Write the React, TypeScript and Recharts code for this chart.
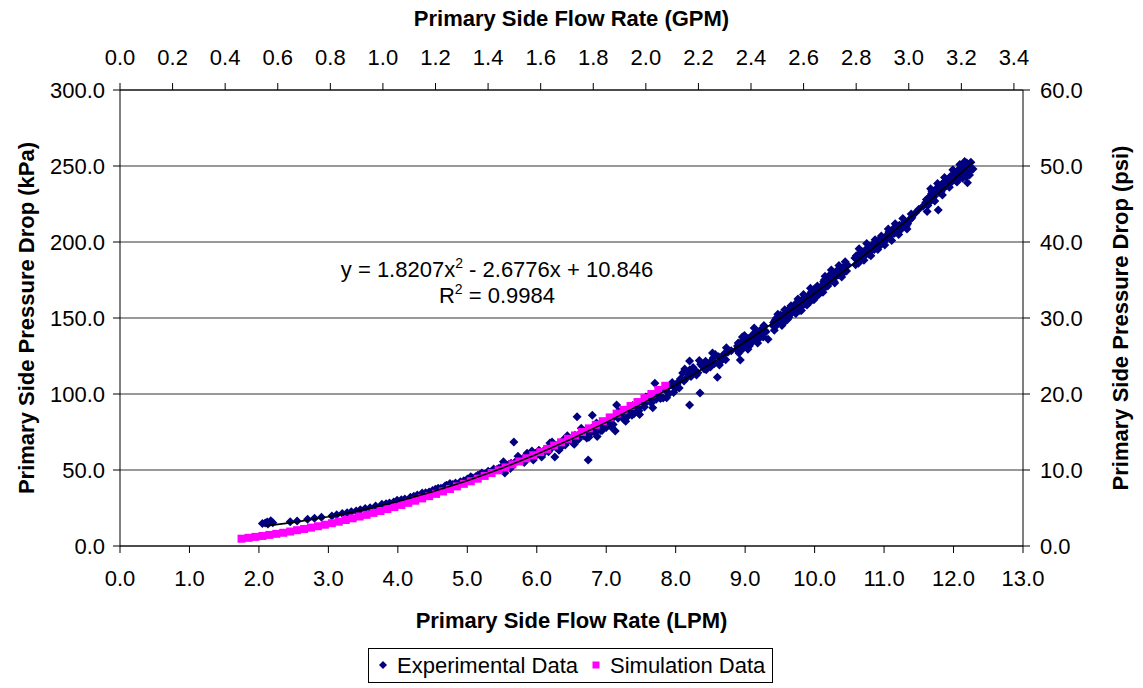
import React from "react";
import {
  ScatterChart,
  Scatter,
  XAxis,
  YAxis,
  CartesianGrid,
  Label,
} from "recharts";

// axis ticks
const lpmTicks = [0, 1, 2, 3, 4, 5, 6, 7, 8, 9, 10, 11, 12, 13];
const gpmTicks = [0, 0.2, 0.4, 0.6, 0.8, 1.0, 1.2, 1.4, 1.6, 1.8, 2.0, 2.2, 2.4, 2.6, 2.8, 3.0, 3.2, 3.4];
const kpaTicks = [0, 50, 100, 150, 200, 250, 300];
const psiTicks = [0, 10, 20, 30, 40, 50, 60];
const gpmMax = 3.4345; // 13 LPM in GPM
const psiMax = 60;

// Experimental Data: [flow LPM, pressure drop kPa]
const experimental: [number, number][] = [
  [2.05, 14.8], [2.09, 15.1], [2.13, 14.4], [2.17, 16.6], [2.2, 15.3], [2.12, 15.8],
  [2.45, 15.9], [2.55, 16.5], [2.7, 17.6], [2.8, 18.2], [2.9, 18.9], [3.05, 19.8],
  [3.12, 20.6], [3.2, 21.4], [3.27, 21.9], [3.33, 22.6], [3.4, 23.1], [3.46, 23.8],
  [3.53, 24.6], [3.6, 25.2], [3.68, 26.3], [3.77, 27.4], [3.83, 27.8], [3.88, 28.3],
  [3.94, 29.0], [3.99, 30.1], [4.05, 30.5], [4.1, 31.0], [4.18, 32.1], [4.23, 32.8],
  [4.28, 33.5], [4.35, 34.9], [4.4, 35.0], [4.45, 35.6], [4.5, 36.5], [4.54, 37.4],
  [4.58, 38.0], [4.62, 38.0], [4.68, 39.5], [4.7, 40.0], [4.75, 41.2], [4.79, 40.5],
  [4.83, 41.5], [4.9, 42.2], [4.95, 43.0], [5.0, 44.0], [5.05, 45.5], [5.08, 44.7],
  [5.12, 45.5], [5.15, 46.5], [5.18, 47.0], [5.21, 48.0],
  [5.25, 47.2], [5.3, 49.1], [5.33, 48.5], [5.38, 50.6], [5.42, 50.2], [5.45, 51.0],
  [5.5, 52.4], [5.52, 55.5], [5.54, 48.0], [5.57, 52.0], [5.6, 53.8], [5.62, 51.0],
  [5.63, 54.5], [5.67, 68.4], [5.68, 55.0], [5.72, 55.9], [5.73, 59.0], [5.75, 57.0],
  [5.8, 57.6], [5.82, 55.0], [5.83, 58.2], [5.86, 61.0], [5.9, 59.8], [5.92, 60.5],
  [5.93, 62.5], [5.95, 56.6], [5.98, 59.0], [6.0, 61.5], [6.03, 63.0], [6.05, 61.8],
  [6.07, 58.5], [6.08, 60.2], [6.1, 62.6], [6.14, 63.8], [6.17, 62.0], [6.19, 67.8],
  [6.2, 64.0], [6.22, 68.5], [6.23, 65.5], [6.26, 58.5], [6.28, 64.8], [6.3, 66.5],
  [6.32, 63.0], [6.33, 67.2], [6.35, 65.0], [6.38, 69.7], [6.41, 66.5], [6.43, 68.4],
  [6.44, 72.5], [6.46, 69.5], [6.5, 70.8], [6.52, 68.0], [6.54, 67.0], [6.55, 72.8],
  [6.58, 71.7], [6.58, 85.0], [6.6, 70.0], [6.63, 74.5], [6.64, 77.5], [6.65, 73.5],
  [6.68, 72.5], [6.7, 76.0], [6.72, 71.0], [6.74, 56.6], [6.75, 71.5], [6.77, 74.0],
  [6.79, 77.5], [6.8, 86.0], [6.82, 76.5], [6.84, 74.5], [6.86, 81.0], [6.87, 72.0],
  [6.88, 78.0], [6.9, 79.0], [6.92, 76.0], [6.94, 76.0], [6.95, 80.2], [6.97, 81.5],
  [7.0, 78.0], [7.02, 79.5], [7.05, 82.0], [7.07, 78.5], [7.08, 83.5], [7.1, 80.0],
  [7.13, 75.6], [7.15, 92.8], [7.17, 84.0], [7.18, 88.5], [7.2, 85.5], [7.23, 87.5],
  [7.26, 83.0], [7.28, 82.0], [7.3, 84.9], [7.32, 88.0], [7.34, 89.5], [7.37, 86.0],
  [7.38, 92.5], [7.4, 87.0], [7.42, 91.0], [7.44, 89.5], [7.47, 89.0], [7.48, 86.5],
  [7.5, 92.5], [7.52, 94.0], [7.55, 91.5], [7.57, 98.0], [7.58, 94.7], [7.6, 96.0],
  [7.63, 99.3], [7.65, 94.0], [7.67, 91.0], [7.68, 98.5], [7.7, 107.0], [7.72, 96.5],
  [7.75, 99.5], [7.77, 102.0], [7.78, 97.0], [7.82, 97.4], [7.85, 103.0], [7.87, 97.5],
  [7.88, 101.5], [7.9, 100.0], [7.92, 106.0], [7.95, 107.5], [7.97, 101.0], [7.98, 104.5],
  [8.0, 103.5], [8.02, 106.5], [8.04, 108.0], [8.05, 104.0], [8.07, 110.0], [8.1, 113.8],
  [8.12, 108.5], [8.13, 116.5], [8.15, 110.2], [8.17, 113.5], [8.2, 115.8], [8.2, 121.7],
  [8.2, 92.8], [8.22, 111.5], [8.24, 113.0], [8.25, 117.5], [8.27, 116.0], [8.3, 112.5],
  [8.32, 114.0], [8.34, 122.0], [8.35, 100.6], [8.36, 119.5], [8.38, 118.5], [8.41, 116.5],
  [8.43, 121.5], [8.44, 116.0], [8.45, 120.0], [8.48, 119.0], [8.5, 117.8], [8.52, 122.0],
  [8.53, 127.0], [8.54, 123.7], [8.56, 120.0], [8.57, 126.0], [8.6, 111.0], [8.62, 124.5],
  [8.63, 119.0], [8.65, 121.5], [8.68, 123.7], [8.7, 126.5], [8.72, 122.5], [8.73, 130.5],
  [8.75, 127.5], [8.8, 128.5],
  [8.88, 129.5], [8.89, 131.5], [8.9, 133.5], [8.91, 127.0], [8.92, 128.5], [8.93, 122.4],
  [8.94, 134.0], [8.95, 131.2], [8.96, 137.5], [8.97, 130.0], [8.98, 134.8], [8.99, 138.5],
  [9.0, 136.0], [9.02, 132.0], [9.03, 134.0], [9.04, 129.5], [9.05, 136.5], [9.06, 131.5],
  [9.07, 136.8], [9.09, 138.0], [9.1, 134.0], [9.11, 135.5], [9.12, 139.2], [9.13, 143.5],
  [9.14, 140.5], [9.15, 137.0], [9.16, 138.5], [9.17, 140.0], [9.18, 133.5], [9.19, 136.0],
  [9.2, 138.4], [9.21, 139.5], [9.22, 141.5], [9.24, 143.0], [9.25, 140.0], [9.26, 137.5],
  [9.27, 145.0], [9.28, 142.0], [9.3, 141.0], [9.33, 136.0],
  [9.4, 145.0], [9.41, 147.0], [9.42, 142.0], [9.43, 148.5], [9.44, 144.5], [9.45, 150.0],
  [9.46, 146.2], [9.47, 152.5], [9.48, 148.0], [9.5, 150.0], [9.51, 152.0], [9.52, 147.5],
  [9.53, 145.0], [9.54, 149.5], [9.55, 151.8], [9.56, 147.0], [9.57, 155.5], [9.58, 149.0],
  [9.59, 152.5], [9.6, 153.5], [9.61, 149.0], [9.62, 155.5], [9.63, 150.5], [9.64, 152.0],
  [9.65, 155.0], [9.66, 158.0],
  [9.7, 156.0], [9.71, 154.0], [9.72, 158.4], [9.73, 153.0], [9.74, 160.0], [9.75, 155.5],
  [9.76, 162.5], [9.77, 157.5], [9.78, 160.0], [9.79, 155.0], [9.8, 157.4], [9.81, 155.0],
  [9.82, 159.5], [9.83, 162.0], [9.84, 165.5], [9.85, 163.5], [9.86, 159.0], [9.87, 161.0],
  [9.88, 163.5], [9.89, 158.5], [9.9, 161.0], [9.91, 164.0], [9.92, 160.0], [9.93, 165.0],
  [9.94, 169.5], [9.95, 167.0], [9.96, 162.5], [9.97, 164.5], [9.98, 166.8], [9.99, 162.0],
  [10.0, 169.0], [10.02, 164.0], [10.03, 166.0], [10.04, 171.0], [10.05, 168.5], [10.06, 165.5],
  [10.1, 171.0], [10.11, 169.0], [10.12, 167.0], [10.13, 173.8], [10.14, 175.0], [10.15, 177.5],
  [10.16, 170.5], [10.18, 173.0], [10.19, 171.0], [10.2, 176.0], [10.21, 178.0], [10.23, 174.2],
  [10.24, 181.5], [10.25, 176.0], [10.27, 180.0], [10.28, 174.0], [10.29, 173.0], [10.3, 177.0],
  [10.31, 180.0], [10.33, 181.5], [10.34, 178.5], [10.35, 184.5], [10.36, 178.4], [10.38, 182.5],
  [10.39, 177.0], [10.4, 183.0], [10.41, 179.5], [10.43, 180.8], [10.44, 187.0], [10.45, 184.0],
  [10.46, 181.0], [10.47, 185.0],
  [10.58, 189.5], [10.59, 185.0], [10.6, 191.0], [10.62, 188.0], [10.63, 186.0], [10.64, 195.5],
  [10.65, 192.5], [10.67, 190.5], [10.69, 193.5], [10.7, 190.0], [10.71, 188.0], [10.72, 191.5],
  [10.74, 194.8], [10.75, 199.0], [10.76, 196.0], [10.78, 192.0], [10.8, 193.5], [10.81, 191.0],
  [10.82, 197.0], [10.84, 198.5], [10.86, 195.0], [10.87, 201.5], [10.88, 196.5], [10.9, 199.5],
  [10.91, 195.0], [10.92, 201.0], [10.94, 197.5], [10.95, 199.0], [10.96, 204.0], [10.97, 200.8],
  [11.0, 200.0], [11.01, 198.0], [11.02, 202.0], [11.04, 203.0], [11.05, 205.0], [11.06, 208.5],
  [11.07, 206.5], [11.08, 203.5], [11.1, 204.5], [11.11, 201.0], [11.12, 207.5], [11.14, 209.0],
  [11.15, 205.8], [11.16, 212.0], [11.18, 207.0], [11.2, 209.8], [11.21, 205.0], [11.22, 211.0],
  [11.24, 208.0], [11.26, 209.5], [11.27, 215.5], [11.28, 212.0], [11.3, 213.5], [11.32, 210.5],
  [11.33, 208.5], [11.34, 212.0], [11.36, 214.5], [11.38, 215.0], [11.39, 218.5], [11.4, 216.0],
  [11.45, 219.0], [11.5, 221.5], [11.56, 223.5],
  [11.6, 226.0], [11.61, 228.0], [11.62, 220.0], [11.63, 224.0], [11.64, 229.0], [11.66, 226.5],
  [11.67, 235.0], [11.68, 231.5], [11.69, 233.0], [11.7, 228.5], [11.72, 230.0], [11.73, 227.0],
  [11.74, 234.0], [11.76, 235.5], [11.77, 238.5], [11.78, 221.0], [11.79, 232.5], [11.8, 236.5],
  [11.82, 233.0], [11.83, 238.0], [11.84, 231.0], [11.85, 235.0], [11.86, 239.0], [11.87, 242.5],
  [11.88, 240.0], [11.9, 237.0],
  [11.92, 238.5], [11.93, 241.5], [11.94, 236.0], [11.95, 243.0], [11.96, 239.0], [11.98, 241.0],
  [11.99, 247.5], [12.0, 244.0], [12.01, 246.0], [12.03, 240.5], [12.04, 243.5], [12.05, 239.5],
  [12.06, 246.5], [12.08, 248.0], [12.09, 251.0], [12.1, 243.0], [12.11, 245.0], [12.12, 248.5],
  [12.13, 242.0], [12.14, 250.5], [12.15, 245.5], [12.16, 253.0], [12.17, 247.5], [12.18, 243.0],
  [12.19, 252.0], [12.2, 239.0], [12.21, 251.0], [12.22, 249.0], [12.23, 244.0], [12.24, 246.5],
  [12.25, 252.5], [12.28, 248.0],
];

// Simulation Data: [flow LPM, pressure drop kPa]
const simulation: [number, number][] = [
  [1.75, 4.8], [1.85, 5.4], [1.95, 6.0], [2.05, 6.6], [2.15, 7.3], [2.25, 8.0],
  [2.35, 8.7], [2.45, 9.5], [2.55, 10.4], [2.65, 11.2], [2.75, 12.1], [2.85, 13.0],
  [2.95, 14.0], [3.05, 15.0], [3.15, 16.0], [3.25, 17.1], [3.35, 18.2], [3.45, 19.4],
  [3.55, 20.5], [3.65, 21.8], [3.75, 23.0], [3.85, 24.3], [3.95, 25.6], [4.05, 27.0],
  [4.15, 28.4], [4.25, 29.8], [4.35, 31.3], [4.45, 32.8], [4.55, 34.3], [4.65, 35.9],
  [4.75, 37.5], [4.85, 39.2], [4.95, 40.9], [5.05, 42.6], [5.15, 44.3], [5.25, 46.1],
  [5.35, 48.0], [5.45, 49.8], [5.55, 51.7], [5.65, 53.7], [5.75, 55.6], [5.85, 57.7],
  [5.95, 59.7], [6.05, 61.8], [6.15, 63.9], [6.25, 66.1], [6.35, 68.2], [6.45, 70.5],
  [6.55, 72.7], [6.65, 75.0], [6.75, 77.4], [6.85, 79.7], [6.95, 82.1], [7.05, 84.6],
  [7.15, 87.1], [7.25, 89.6], [7.35, 92.1], [7.45, 94.7], [7.55, 97.3], [7.65, 100.0],
  [7.75, 102.7], [7.85, 105.4],
];

// Poly. trendline of Experimental Data
const trend: [number, number][] = [
  [2.1, 13.25], [2.5, 15.53], [3.0, 19.2], [3.5, 23.78], [4.0, 29.27], [4.5, 35.67],
  [5.0, 42.98], [5.5, 51.2], [6.0, 60.33], [6.5, 70.37], [7.0, 81.32], [7.5, 93.18],
  [8.0, 105.95], [8.5, 119.63], [9.0, 134.22], [9.5, 149.73], [10.0, 166.14], [10.5, 183.46],
  [11.0, 201.7], [11.5, 220.84], [12.0, 240.9], [12.28, 252.52],
];

const toPts = (arr: [number, number][]) => arr.map(([x, y]) => ({ x, y }));
// corner points so the GPM / psi axes get a domain
const secondaryCorners = [
  { x: 0, y: 0 },
  { x: gpmMax, y: psiMax },
];

const FONT = "'Liberation Sans', Arial, sans-serif";
const NAVY = "#000080";
const MAGENTA = "#FF00FF";
const tickStyle = { fontSize: 22, fill: "#000", fontFamily: FONT };
const fmt = (v: number) => v.toFixed(1);

const Diamond = (props: any) => {
  const { cx, cy } = props;
  if (cx == null || cy == null) return <g />;
  return (
    <polygon
      points={`${cx},${cy - 4.5} ${cx + 4.5},${cy} ${cx},${cy + 4.5} ${cx - 4.5},${cy}`}
      fill={NAVY}
    />
  );
};

const Square = (props: any) => {
  const { cx, cy } = props;
  if (cx == null || cy == null) return <g />;
  return <rect x={cx - 4} y={cy - 4} width={8} height={8} fill={MAGENTA} />;
};

const Nothing = () => <g />;

const titleStyle = { fontSize: 22, fontWeight: 700, fontFamily: FONT, fill: "#000" };

function HTitle({ viewBox, text, baseline }: any) {
  const cx = viewBox.x + viewBox.width / 2;
  return (
    <text x={cx} y={baseline} textAnchor="middle" style={titleStyle}>
      {text}
    </text>
  );
}

function VTitle({ viewBox, text, baseline }: any) {
  const cy = viewBox.y + viewBox.height / 2;
  return (
    <text
      x={baseline}
      y={cy}
      textAnchor="middle"
      transform={`rotate(-90 ${baseline} ${cy})`}
      style={titleStyle}
    >
      {text}
    </text>
  );
}

const eqStyle: React.CSSProperties = {
  position: "absolute",
  left: 297,
  width: 400,
  textAlign: "center",
  fontSize: 22,
  lineHeight: "22px",
  whiteSpace: "nowrap",
};
const supStyle: React.CSSProperties = { fontSize: 14, position: "relative", top: -9 };

export default function App() {
  return (
    <div
      style={{
        position: "absolute",
        left: 0,
        top: 0,
        width: 1143,
        height: 688,
        background: "#fff",
        fontFamily: FONT,
      }}
    >
      <ScatterChart width={1143} height={688} margin={{ top: 0, right: 0, bottom: 0, left: 0 }}>
        <CartesianGrid vertical={false} stroke="#333" xAxisId="bottom" yAxisId="left" />
        <XAxis
          xAxisId="bottom"
          type="number"
          dataKey="x"
          orientation="bottom"
          domain={[0, 13]}
          ticks={lpmTicks}
          interval={0}
          allowDataOverflow
          height={142}
          tickFormatter={fmt}
          tick={tickStyle}
          tickSize={7}
          tickMargin={17}
          axisLine={{ stroke: "#000" }}
          tickLine={{ stroke: "#000" }}
        >
          <Label
            content={(p: any) => (
              <HTitle {...p} text="Primary Side Flow Rate (LPM)" baseline={628} />
            )}
          />
        </XAxis>
        <XAxis
          xAxisId="top"
          type="number"
          dataKey="x"
          orientation="top"
          domain={[0, gpmMax]}
          ticks={gpmTicks}
          interval={0}
          allowDataOverflow
          height={90}
          tickFormatter={fmt}
          tick={tickStyle}
          tickSize={7}
          tickMargin={18}
          axisLine={{ stroke: "#000" }}
          tickLine={{ stroke: "#000" }}
        >
          <Label
            content={(p: any) => (
              <HTitle {...p} text="Primary Side Flow Rate (GPM)" baseline={26} />
            )}
          />
        </XAxis>
        <YAxis
          yAxisId="left"
          type="number"
          dataKey="y"
          domain={[0, 300]}
          ticks={kpaTicks}
          interval={0}
          allowDataOverflow
          width={120}
          tickFormatter={fmt}
          tick={tickStyle}
          tickSize={7}
          tickMargin={8}
          axisLine={{ stroke: "#000" }}
          tickLine={{ stroke: "#000" }}
        >
          <Label
            content={(p: any) => (
              <VTitle {...p} text="Primary Side Pressure Drop (kPa)" baseline={34} />
            )}
          />
        </YAxis>
        <YAxis
          yAxisId="right"
          type="number"
          dataKey="y"
          orientation="right"
          domain={[0, psiMax]}
          ticks={psiTicks}
          interval={0}
          allowDataOverflow
          width={120}
          tickFormatter={fmt}
          tick={tickStyle}
          tickSize={7}
          tickMargin={10}
          axisLine={{ stroke: "#000" }}
          tickLine={{ stroke: "#000" }}
        >
          <Label
            content={(p: any) => (
              <VTitle {...p} text="Primary Side Pressure Drop (psi)" baseline={1128} />
            )}
          />
        </YAxis>
        <Scatter
          name="secondary axes"
          data={secondaryCorners}
          xAxisId="top"
          yAxisId="right"
          shape={Nothing}
          legendType="none"
          isAnimationActive={false}
        />
        <Scatter
          name="Experimental Data"
          data={toPts(experimental)}
          xAxisId="bottom"
          yAxisId="left"
          shape={Diamond}
          isAnimationActive={false}
        />
        <Scatter
          name="Simulation Data"
          data={toPts(simulation)}
          xAxisId="bottom"
          yAxisId="left"
          shape={Square}
          isAnimationActive={false}
        />
        <Scatter
          name="Poly. (Experimental Data)"
          data={toPts(trend)}
          xAxisId="bottom"
          yAxisId="left"
          line={{ stroke: "#000", strokeWidth: 1.6 }}
          lineType="joint"
          shape={Nothing}
          legendType="none"
          isAnimationActive={false}
        />
      </ScatterChart>

      {/* trendline equation */}
      <div style={{ ...eqStyle, top: 259 }}>
        y = 1.8207x<span style={supStyle}>2</span> - 2.6776x + 10.846
      </div>
      <div style={{ ...eqStyle, top: 285 }}>
        R<span style={supStyle}>2</span> = 0.9984
      </div>

      {/* legend */}
      <div
        style={{
          position: "absolute",
          left: 368,
          top: 648,
          width: 403,
          height: 33,
          border: "1px solid #000",
          background: "#fff",
          fontSize: 22,
          lineHeight: "33px",
        }}
      >
        <svg width={10} height={10} style={{ position: "absolute", left: 9, top: 11 }}>
          <polygon points="5,1 9,5 5,9 1,5" fill={NAVY} />
        </svg>
        <span style={{ position: "absolute", left: 28, top: 0 }}>Experimental Data</span>
        <svg width={10} height={10} style={{ position: "absolute", left: 222, top: 11 }}>
          <rect x={1.5} y={1.5} width={7} height={7} fill={MAGENTA} />
        </svg>
        <span style={{ position: "absolute", left: 241, top: 0 }}>Simulation Data</span>
      </div>
    </div>
  );
}
